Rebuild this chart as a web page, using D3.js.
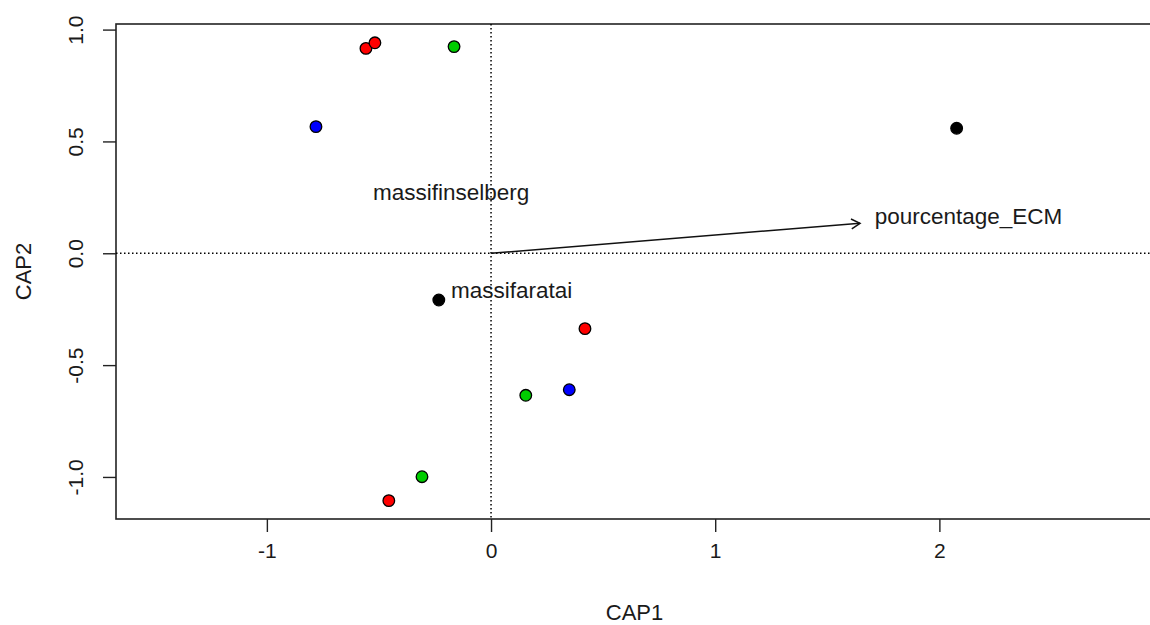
<!DOCTYPE html>
<html>
<head>
<meta charset="utf-8">
<script src="https://cdn.jsdelivr.net/npm/d3@7"></script>
<style>
  body { margin: 0; background: #fff; }
  svg { display: block; font-family: "Liberation Sans", Arial, sans-serif; }
</style>
</head>
<body>
<svg width="1150" height="625"></svg>
<script>
// site scores (CAP1, CAP2) and their group colour
var cap1 = [-0.558, -0.518, -0.165, -0.781, 2.077, -0.233, 0.419, 0.349, 0.155, -0.308, -0.456]
var cap2 = [0.916, 0.941, 0.924, 0.566, 0.559, -0.209, -0.337, -0.610, -0.635, -0.999, -1.106]
var grp  = ['red', 'red', 'green', 'blue', 'black', 'black', 'red', 'blue', 'green', 'green', 'red']

// centroid labels for the factor levels
var centNames = ['massifinselberg', 'massifaratai']
var centX = [-0.178, 0.092]
var centY = [0.270, -0.168]

// biplot arrow for the continuous variable
var vecName = 'pourcentage_ECM'
var vecX = 1.646, vecY = 0.134
var vecLabX = 2.13, vecLabY = 0.165

var xTicks = [-1, 0, 1, 2]
var yTicks = [-1, -0.5, 0, 0.5, 1]

var colours = d3.scaleOrdinal()
  .domain(['red', 'green', 'blue', 'black'])
  .range(['#ff0000', '#00cd00', '#0000ff', '#000000'])

// plot box (window.top is read-only, so not named "top")
var pl = 116, pr = 1151, pt = 24, pb = 519

var x = d3.scaleLinear().domain([-1.673, 2.944]).range([pl, pr])
var y = d3.scaleLinear().domain([-1.188, 1.025]).range([pb, pt])

// R prints a plain hyphen, not d3's unicode minus
var fmtX = function (d) { return d3.format('d')(d).replace('\u2212', '-') }
var fmtY = function (d) { return d3.format('.1f')(d).replace('\u2212', '-') }

var svg = d3.select('svg')

// axes
var xAxis = svg.append('g')
  .attr('transform', 'translate(0,' + pb + ')')
  .call(d3.axisBottom(x).tickValues(xTicks).tickFormat(fmtX)
        .tickSize(13).tickPadding(11))
var yAxis = svg.append('g')
  .attr('transform', 'translate(' + pl + ',0)')
  .call(d3.axisLeft(y).tickValues(yTicks).tickFormat(fmtY)
        .tickSize(13).tickPadding(0))

xAxis.select('.domain').remove()
yAxis.select('.domain').remove()
svg.selectAll('.tick line').attr('stroke', '#222').attr('stroke-width', 1.4)
xAxis.selectAll('.tick text')
  .attr('font-size', 21).attr('fill', '#1a1a1a').attr('font-family', null)
yAxis.selectAll('.tick text')
  .attr('font-size', 21).attr('fill', '#1a1a1a').attr('font-family', null)
  .attr('text-anchor', 'middle').attr('dy', null)
  .attr('x', -41).attr('y', 0)
  .attr('transform', 'rotate(-90,-41,0)')
  .attr('dominant-baseline', 'central')

// frame
svg.append('rect')
  .attr('x', pl).attr('y', pt)
  .attr('width', pr - pl).attr('height', pb - pt)
  .attr('fill', 'none').attr('stroke', '#222').attr('stroke-width', 1.6)

// axis titles
svg.append('text').attr('x', (pl + pr) / 2 + 1).attr('y', 620)
  .attr('text-anchor', 'middle').attr('font-size', 22).attr('fill', '#1a1a1a')
  .text('CAP1')
svg.append('text').attr('transform', 'translate(31,' + (pt + pb) / 2 + ') rotate(-90)')
  .attr('text-anchor', 'middle').attr('font-size', 22).attr('fill', '#1a1a1a')
  .text('CAP2')

// zero reference lines
svg.append('line')
  .attr('x1', pl).attr('x2', pr).attr('y1', y(0)).attr('y2', y(0))
  .attr('stroke', '#000').attr('stroke-width', 1.5).attr('stroke-dasharray', '1.5,2.5')
svg.append('line')
  .attr('x1', x(0)).attr('x2', x(0)).attr('y1', pt).attr('y2', pb)
  .attr('stroke', '#000').attr('stroke-width', 1.5).attr('stroke-dasharray', '1.5,2.5')

// centroid labels
svg.selectAll('.cent').data(centNames).enter().append('text')
  .attr('class', 'cent')
  .attr('x', function (d, i) { return x(centX[i]) })
  .attr('y', function (d, i) { return y(centY[i]) })
  .attr('text-anchor', 'middle').attr('dominant-baseline', 'central')
  .attr('font-size', 22.5).attr('fill', '#1a1a1a')
  .text(function (d) { return d })

// points
svg.selectAll('.pt').data(cap1).enter().append('circle')
  .attr('class', 'pt')
  .attr('cx', function (d) { return x(d) })
  .attr('cy', function (d, i) { return y(cap2[i]) })
  .attr('r', 5.8)
  .attr('fill', function (d, i) { return colours(grp[i]) })
  .attr('stroke', '#000').attr('stroke-width', 1.3)

// biplot arrow
var x0 = x(0), y0 = y(0), x1 = x(vecX), y1 = y(vecY)
var ang = Math.atan2(y1 - y0, x1 - x0), hl = 10, ha = Math.PI / 6
svg.append('line')
  .attr('x1', x0).attr('y1', y0).attr('x2', x1).attr('y2', y1)
  .attr('stroke', '#111').attr('stroke-width', 1.5)
svg.append('path')
  .attr('d', 'M' + (x1 - hl * Math.cos(ang - ha)) + ',' + (y1 - hl * Math.sin(ang - ha))
       + 'L' + x1 + ',' + y1
       + 'L' + (x1 - hl * Math.cos(ang + ha)) + ',' + (y1 - hl * Math.sin(ang + ha)))
  .attr('fill', 'none').attr('stroke', '#111').attr('stroke-width', 1.5)
svg.append('text')
  .attr('x', x(vecLabX)).attr('y', y(vecLabY))
  .attr('text-anchor', 'middle').attr('dominant-baseline', 'central')
  .attr('font-size', 22.5).attr('fill', '#1a1a1a')
  .text(vecName)
</script>
</body>
</html>
